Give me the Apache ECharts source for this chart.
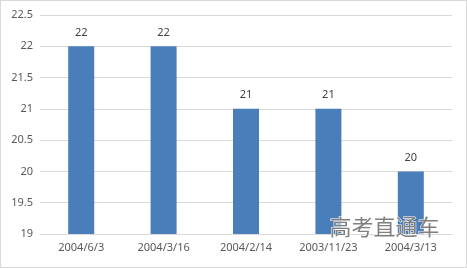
<!DOCTYPE html>
<html><head><meta charset="utf-8">
<script src="https://cdn.jsdelivr.net/npm/echarts@6/dist/echarts.min.js"></script>
<style>html,body{margin:0;padding:0;background:#fff}#c{width:467px;height:268px;box-sizing:border-box;border:1px solid #d9d9d9}</style>
</head><body><div id="c"></div>
<script>
const categories = ['2004/6/3', '2004/3/16', '2004/2/14', '2003/11/23', '2004/3/13'];
const values = [22, 22, 21, 21, 20];
const watermark = '高考直通车';

const chart = echarts.init(document.getElementById('c'), null, {renderer: 'canvas'});
chart.setOption({
  animation: false,
  grid: {left: 39, right: 14, top: 14, bottom: 33},
  xAxis: {
    type: 'category', data: categories,
    axisLine: {show: true, lineStyle: {color: '#d9d9d9'}},
    axisTick: {show: false},
    axisLabel: {color: '#595959', fontSize: 11, fontFamily: 'Noto Sans', margin: 8}
  },
  yAxis: {
    type: 'value', min: 19, max: 22.5, interval: 0.5,
    axisLine: {show: false}, axisTick: {show: false},
    splitLine: {lineStyle: {color: '#d9d9d9'}},
    axisLabel: {color: '#595959', fontSize: 11, fontFamily: 'Noto Sans', margin: 7}
  },
  series: [{
    type: 'bar', data: values, barWidth: 26,
    itemStyle: {color: '#4a7ebb'},
    label: {show: true, position: 'top', distance: 8, color: '#404040', fontSize: 11, fontFamily: 'Noto Sans'}
  }],
  graphic: [{
    type: 'text', left: 328, top: 214, z: 100,
    style: {text: watermark, fontSize: 22, fontFamily: 'Noto Sans CJK SC', fill: '#808080', stroke: '#ffffff', lineWidth: 1}
  }]
});
</script></body></html>
